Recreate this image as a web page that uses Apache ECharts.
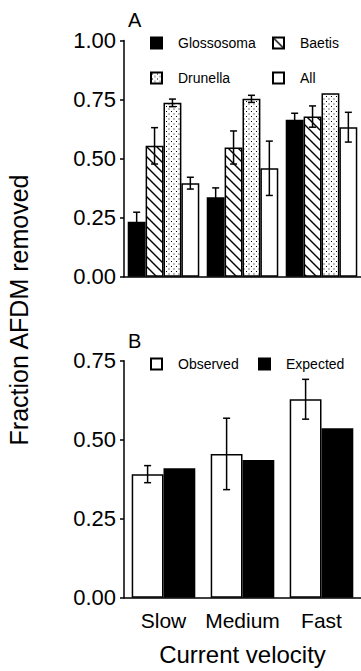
<!DOCTYPE html>
<html>
<head>
<meta charset="utf-8">
<script src="https://cdn.jsdelivr.net/npm/echarts@6/dist/echarts.min.js"></script>
<style>
  html, body { margin: 0; padding: 0; background: #fff; }
  #chart { width: 361px; height: 671px; }
</style>
</head>
<body>
<div id="chart"></div>
<script>
// current velocity groups
let categories = ['Slow', 'Medium', 'Fast'];

// panel A: fraction AFDM removed by grazer
let glossosoma = [0.233, 0.336, 0.664];
let glossosomaErr = [0.040, 0.040, 0.028];
let baetis = [0.554, 0.547, 0.678];
let baetisErr = [0.077, 0.070, 0.045];
let drunella = [0.736, 0.753, 0.777];
let drunellaErr = [0.016, 0.015, 0];
let allGrazers = [0.396, 0.459, 0.633];
let allErr = [0.025, 0.115, 0.063];

// panel B: observed vs expected
let observed = [0.391, 0.455, 0.628];
let observedErr = [0.027, 0.113, 0.063];
let expected = [0.410, 0.436, 0.536];

let ticksA = [0, 0.25, 0.5, 0.75, 1];
let ticksB = [0, 0.25, 0.5, 0.75];

const FONT = 'Liberation Sans, Arial, Helvetica, sans-serif';

function hatchPattern(){
  let c = document.createElement('canvas');
  c.width = 10; c.height = 10;
  let g = c.getContext('2d');
  g.fillStyle = '#fff';
  g.fillRect(0, 0, 10, 10);
  g.strokeStyle = '#000';
  g.lineWidth = 1.4;
  g.beginPath();
  g.moveTo(-1, -1); g.lineTo(11, 11);
  g.moveTo(-6, 4); g.lineTo(6, 16);
  g.moveTo(4, -6); g.lineTo(16, 6);
  g.stroke();
  return c;
}

function dotPattern(){
  let c = document.createElement('canvas');
  c.width = 5; c.height = 5;
  let g = c.getContext('2d');
  g.fillStyle = '#fff';
  g.fillRect(0, 0, 5, 5);
  g.fillStyle = '#000';
  g.fillRect(1, 1, 1, 1);
  g.fillRect(3.5, 3.5, 1, 1);
  return c;
}

// error bar rows: [category, series slot, mean, err]
function errRows(means, errs, slot){
  return means.map((m, i) => [i, slot, m, errs[i]]);
}

function errRenderer(nSeries, gapFrac){
  return function(params, api){
    let cat = api.value(0), slot = api.value(1), m = api.value(2), e = api.value(3);
    if(!e) return null;
    let band = api.size([1, 0])[0];
    let bw = band * (1 - gapFrac) / nSeries;
    let c = api.coord([cat, m]);
    let x = c[0] + (slot - (nSeries - 1) / 2) * bw;
    let yt = api.coord([cat, m + e])[1];
    let yb = api.coord([cat, m - e])[1];
    let hw = 3.5;
    let st = { stroke: '#000', lineWidth: 1.5 };
    return {
      type: 'group',
      children: [
        { type: 'line', shape: { x1: x, y1: yt, x2: x, y2: yb }, style: st },
        { type: 'line', shape: { x1: x - hw, y1: yt, x2: x + hw, y2: yt }, style: st },
        { type: 'line', shape: { x1: x - hw, y1: yb, x2: x + hw, y2: yb }, style: st }
      ]
    };
  };
}

let chart = echarts.init(document.getElementById('chart'), null, { renderer: 'svg' });

let hatch = { image: hatchPattern(), repeat: 'repeat' };
let dots = { image: dotPattern(), repeat: 'repeat' };

let gapA = 0.094, gapB = 0.195;

let axisLine = { show: true, lineStyle: { color: '#000', width: 1.5 } };

function legendAt(name, left, top){
  return {
    data: [name], left: left, top: top, padding: 0,
    itemWidth: 11, itemHeight: 11, selectedMode: false,
    icon: 'rect',
    textStyle: { fontFamily: FONT, fontSize: 14, color: '#000', padding: [0, 0, 0, 11] }
  };
}

chart.setOption({
  backgroundColor: '#fff',
  animation: false,
  title: [
    { text: 'A', left: 128, top: 10, padding: 0, textStyle: { fontFamily: FONT, fontSize: 20, fontWeight: 'normal', color: '#000' } },
    { text: 'B', left: 128, top: 331, padding: 0, textStyle: { fontFamily: FONT, fontSize: 20, fontWeight: 'normal', color: '#000' } }
  ],
  legend: [
    legendAt('Glossosoma', 150, 36),
    legendAt('Baetis', 272, 36),
    legendAt('Drunella', 150, 71),
    legendAt('All', 272, 71),
    legendAt('Observed', 150, 357),
    legendAt('Expected', 258, 357)
  ],
  graphic: [{
    type: 'text',
    x: 19, y: 310,
    rotation: Math.PI / 2,
    style: {
      text: 'Fraction AFDM removed',
      font: '25px ' + FONT,
      fill: '#000',
      align: 'center',
      verticalAlign: 'middle'
    }
  }],
  grid: [
    { left: 124, top: 40.5, width: 238.5, height: 236.2 },
    { left: 124, top: 360.7, width: 238.5, height: 237 }
  ],
  xAxis: [
    { type: 'category', gridIndex: 0, data: categories, axisLine: axisLine,
      axisTick: { show: false }, axisLabel: { show: false } },
    { type: 'category', gridIndex: 1, data: categories, axisLine: axisLine,
      axisTick: { show: false },
      axisLabel: { fontFamily: FONT, fontSize: 21, color: '#000', margin: 12, interval: 0 },
      name: 'Current velocity', nameLocation: 'middle', nameGap: 45,
      nameTextStyle: { fontFamily: FONT, fontSize: 24, color: '#000', verticalAlign: 'top' } }
  ],
  yAxis: [
    { type: 'value', gridIndex: 0, min: ticksA[0], max: ticksA[ticksA.length - 1], interval: 0.25,
      axisLine: axisLine, splitLine: { show: false },
      axisTick: { show: true, length: 4, lineStyle: { color: '#000', width: 1.5 } },
      axisLabel: { fontFamily: FONT, fontSize: 22, color: '#000', margin: 8, formatter: v => v.toFixed(2) } },
    { type: 'value', gridIndex: 1, min: ticksB[0], max: ticksB[ticksB.length - 1], interval: 0.25,
      axisLine: axisLine, splitLine: { show: false },
      axisTick: { show: true, length: 4, lineStyle: { color: '#000', width: 1.5 } },
      axisLabel: { fontFamily: FONT, fontSize: 22, color: '#000', margin: 8, formatter: v => v.toFixed(2) } }
  ],
  series: [
    { name: 'Glossosoma', type: 'bar', data: glossosoma, barGap: 0, barCategoryGap: (gapA * 100) + '%',
      itemStyle: { color: '#000', borderColor: '#000', borderWidth: 1.5 } },
    { name: 'Baetis', type: 'bar', data: baetis,
      itemStyle: { color: hatch, borderColor: '#000', borderWidth: 1.5 } },
    { name: 'Drunella', type: 'bar', data: drunella,
      itemStyle: { color: dots, borderColor: '#000', borderWidth: 1.5 } },
    { name: 'All', type: 'bar', data: allGrazers,
      itemStyle: { color: '#fff', borderColor: '#000', borderWidth: 1.5 } },
    { type: 'custom', z: 10, xAxisIndex: 0, yAxisIndex: 0, silent: true,
      renderItem: errRenderer(4, gapA),
      data: [].concat(errRows(glossosoma, glossosomaErr, 0), errRows(baetis, baetisErr, 1),
                      errRows(drunella, drunellaErr, 2), errRows(allGrazers, allErr, 3)) },

    { name: 'Observed', type: 'bar', xAxisIndex: 1, yAxisIndex: 1, data: observed,
      barGap: 0, barCategoryGap: (gapB * 100) + '%',
      itemStyle: { color: '#fff', borderColor: '#000', borderWidth: 1.5 } },
    { name: 'Expected', type: 'bar', xAxisIndex: 1, yAxisIndex: 1, data: expected,
      itemStyle: { color: '#000', borderColor: '#000', borderWidth: 1.5 } },
    { type: 'custom', z: 10, xAxisIndex: 1, yAxisIndex: 1, silent: true,
      renderItem: errRenderer(2, gapB),
      data: errRows(observed, observedErr, 0) }
  ]
});
</script>
</body>
</html>
